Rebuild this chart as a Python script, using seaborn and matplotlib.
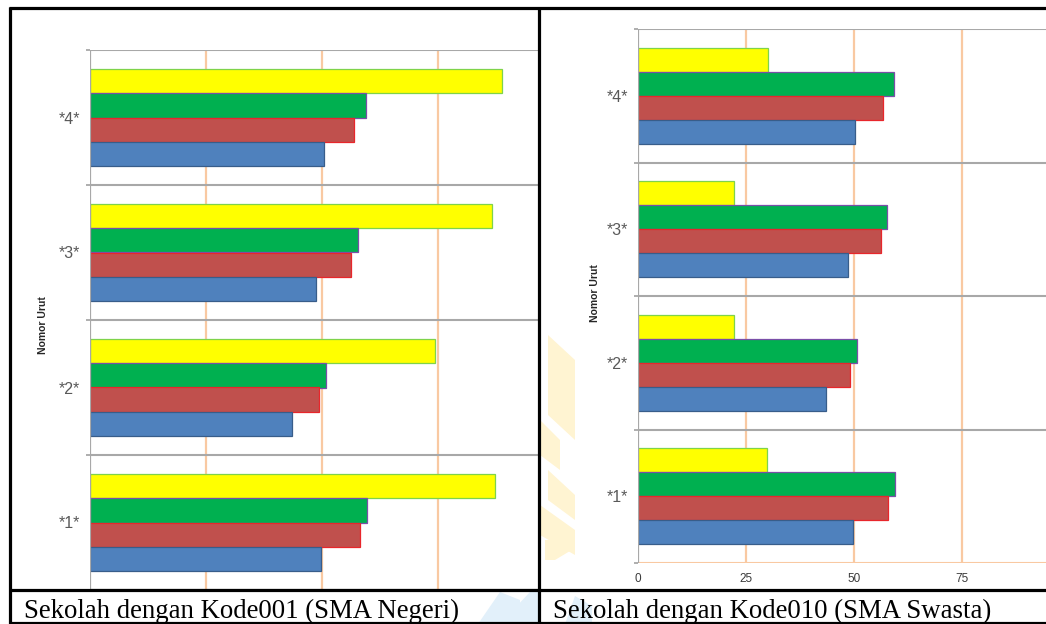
import matplotlib
matplotlib.use("Agg")
import matplotlib.pyplot as plt
import seaborn as sns
import pandas as pd
from matplotlib.lines import Line2D
from matplotlib.patches import Polygon

# ---- data -------------------------------------------------------------
categories = ["*4*", "*3*", "*2*", "*1*"]            # top to bottom
series = ["Seri 4", "Seri 3", "Seri 2", "Seri 1"]     # top to bottom inside a group

negeri_seri1 = [50.4, 48.8, 43.6, 49.9]
negeri_seri2 = [56.8, 56.3, 49.3, 58.1]
negeri_seri3 = [59.4, 57.8, 50.9, 59.7]
negeri_seri4 = [88.7, 86.6, 74.3, 87.3]

swasta_seri1 = [50.2, 48.7, 43.5, 49.9]
swasta_seri2 = [56.7, 56.2, 49.1, 57.9]
swasta_seri3 = [59.3, 57.7, 50.8, 59.5]
swasta_seri4 = [30.2, 22.3, 22.3, 30.0]

x_ticks = [0, 25, 50, 75]
captions = ["Sekolah dengan Kode001 (SMA Negeri)",
            "Sekolah dengan Kode010 (SMA Swasta)"]
axis_title = "Nomor Urut"

# ---- styling ----------------------------------------------------------
fill = {"Seri 1": "#4F81BD", "Seri 2": "#C0504D", "Seri 3": "#00B050", "Seri 4": "#FFFF00"}
edge = {"Seri 1": "#385D8A", "Seri 2": "#E8262B", "Seri 3": "#7A4FA8", "Seri 4": "#7FD34A"}
GRID_ORANGE = "#F9C9A2"
SEP_GRAY = "#A8A8A8"

sns.set_style("white")
plt.rcParams["font.family"] = ["Liberation Sans", "DejaVu Sans"]

W, H = 1046, 624
fig = plt.figure(figsize=(W / 100, H / 100), dpi=100)
fig.patch.set_facecolor("white")


def P(x, y):
    return (x / W, 1 - y / H)


# faint page watermark behind the charts
wm_yellow = [
    [(548, 335), (575, 360), (575, 440), (548, 415)],
    [(540, 420), (560, 440), (560, 470), (540, 455)],
    [(548, 470), (575, 495), (575, 520), (548, 500)],
    [(540, 505), (575, 530), (575, 555), (540, 535)],
    [(545, 540), (575, 540), (575, 548), (555, 560), (545, 560)],
]
wm_blue = [
    [(478, 624), (500, 592), (520, 600), (520, 624)],
    [(500, 624), (530, 592), (540, 592), (540, 624)],
    [(565, 624), (575, 596), (592, 606), (592, 624)],
]
for pts in wm_yellow:
    fig.add_artist(Polygon([P(*p) for p in pts], closed=True, transform=fig.transFigure,
                           facecolor="#FFF4D2", edgecolor="none", zorder=-2))
for pts in wm_blue:
    fig.add_artist(Polygon([P(*p) for p in pts], closed=True, transform=fig.transFigure,
                           facecolor="#E2F0FA", edgecolor="none", zorder=-2))


def long_table(s1, s2, s3, s4):
    rows = []
    for name, vals in zip(["Seri 1", "Seri 2", "Seri 3", "Seri 4"], [s1, s2, s3, s4]):
        for cat, v in zip(categories, vals):
            rows.append({axis_title: cat, "Seri": name, "Nilai": v})
    return pd.DataFrame(rows)


def fig_box(x0, y0, x1, y1):
    """pixel box (top-left origin) -> figure fraction rect"""
    return [x0 / W, 1 - y1 / H, (x1 - x0) / W, (y1 - y0) / H]


def draw_panel(rect, df, xmax, show_xlabels, bottom_color, title_xy):
    ax = fig.add_axes(rect)
    ax.set_facecolor("none")
    sns.barplot(data=df, y=axis_title, x="Nilai", hue="Seri", order=categories,
                hue_order=series, palette=fill, orient="h", width=0.72, gap=0,
                saturation=1, legend=False, ax=ax, zorder=3)
    for cont, name in zip(ax.containers, series):
        for bar in cont:
            bar.set_edgecolor(edge[name])
            bar.set_linewidth(0.9)
    ax.set_xlim(0, xmax)
    ax.set_ylim(len(categories) - 0.5, -0.5)

    # vertical value grid
    for t in x_ticks[1:]:
        ax.axvline(t, color=GRID_ORANGE, lw=1.6, zorder=0.5)
    # group separators
    bounds = [i - 0.5 for i in range(len(categories) + 1)]
    for b in bounds[:-1]:
        ax.axhline(b, color=SEP_GRAY, lw=1.5, zorder=1)
    ax.axhline(bounds[-1], color=bottom_color, lw=1.5, zorder=1)
    ax.axvline(0, color=SEP_GRAY, lw=1.6, zorder=4)

    for s in ax.spines.values():
        s.set_visible(False)

    ax.set_yticks(bounds)
    ax.set_yticklabels([""] * len(bounds))
    ax.tick_params(axis="y", which="major", length=3.2, width=1.3, color=SEP_GRAY, left=True)
    ax.set_yticks(range(len(categories)), labels=categories, minor=True)
    ax.tick_params(axis="y", which="minor", length=0, pad=7, labelsize=11.5,
                   labelcolor="#595959")

    ax.set_xticks(x_ticks)
    ax.tick_params(axis="x", length=0, pad=7, labelsize=8.5, labelcolor="#3A3A3A",
                   labelbottom=show_xlabels)
    ax.set_xlabel("")
    ax.set_ylabel("")
    ax.text(title_xy[0], title_xy[1], axis_title, transform=ax.transAxes, rotation=90,
            ha="center", va="center", fontsize=7.5, fontweight="bold", color="#262626")
    return ax


draw_panel(fig_box(89.5, 50, 539, 590),
           long_table(negeri_seri1, negeri_seri2, negeri_seri3, negeri_seri4),
           96.7, False, "black", (-0.103, 0.49))
draw_panel(fig_box(637.7, 29, 1046, 563),
           long_table(swasta_seri1, swasta_seri2, swasta_seri3, swasta_seri4),
           94.5, True, GRID_ORANGE, (-0.105, 0.505))

# ---- table frame and captions -----------------------------------------
def hline(y, x0, x1):
    fig.add_artist(Line2D([x0 / W, x1 / W], [1 - y / H, 1 - y / H], color="black",
                          lw=2.3, solid_capstyle="butt", zorder=10))


def vline(x, y0, y1):
    fig.add_artist(Line2D([x / W, x / W], [1 - y0 / H, 1 - y1 / H], color="black",
                          lw=2.3, solid_capstyle="butt", zorder=10))


hline(7.5, 8.5, W)
hline(590, 8.5, W)
hline(622.5, 8.5, W)
vline(10, 6.5, 624)
vline(539, 6.5, 624)

fig.text(24 / W, 1 - 618 / H, captions[0], family="Liberation Serif", fontsize=19.3,
         ha="left", va="baseline", color="black", zorder=11)
fig.text(553 / W, 1 - 618 / H, captions[1], family="Liberation Serif", fontsize=19.3,
         ha="left", va="baseline", color="black", zorder=11)

fig.savefig("out.png", dpi=100, facecolor="white")
